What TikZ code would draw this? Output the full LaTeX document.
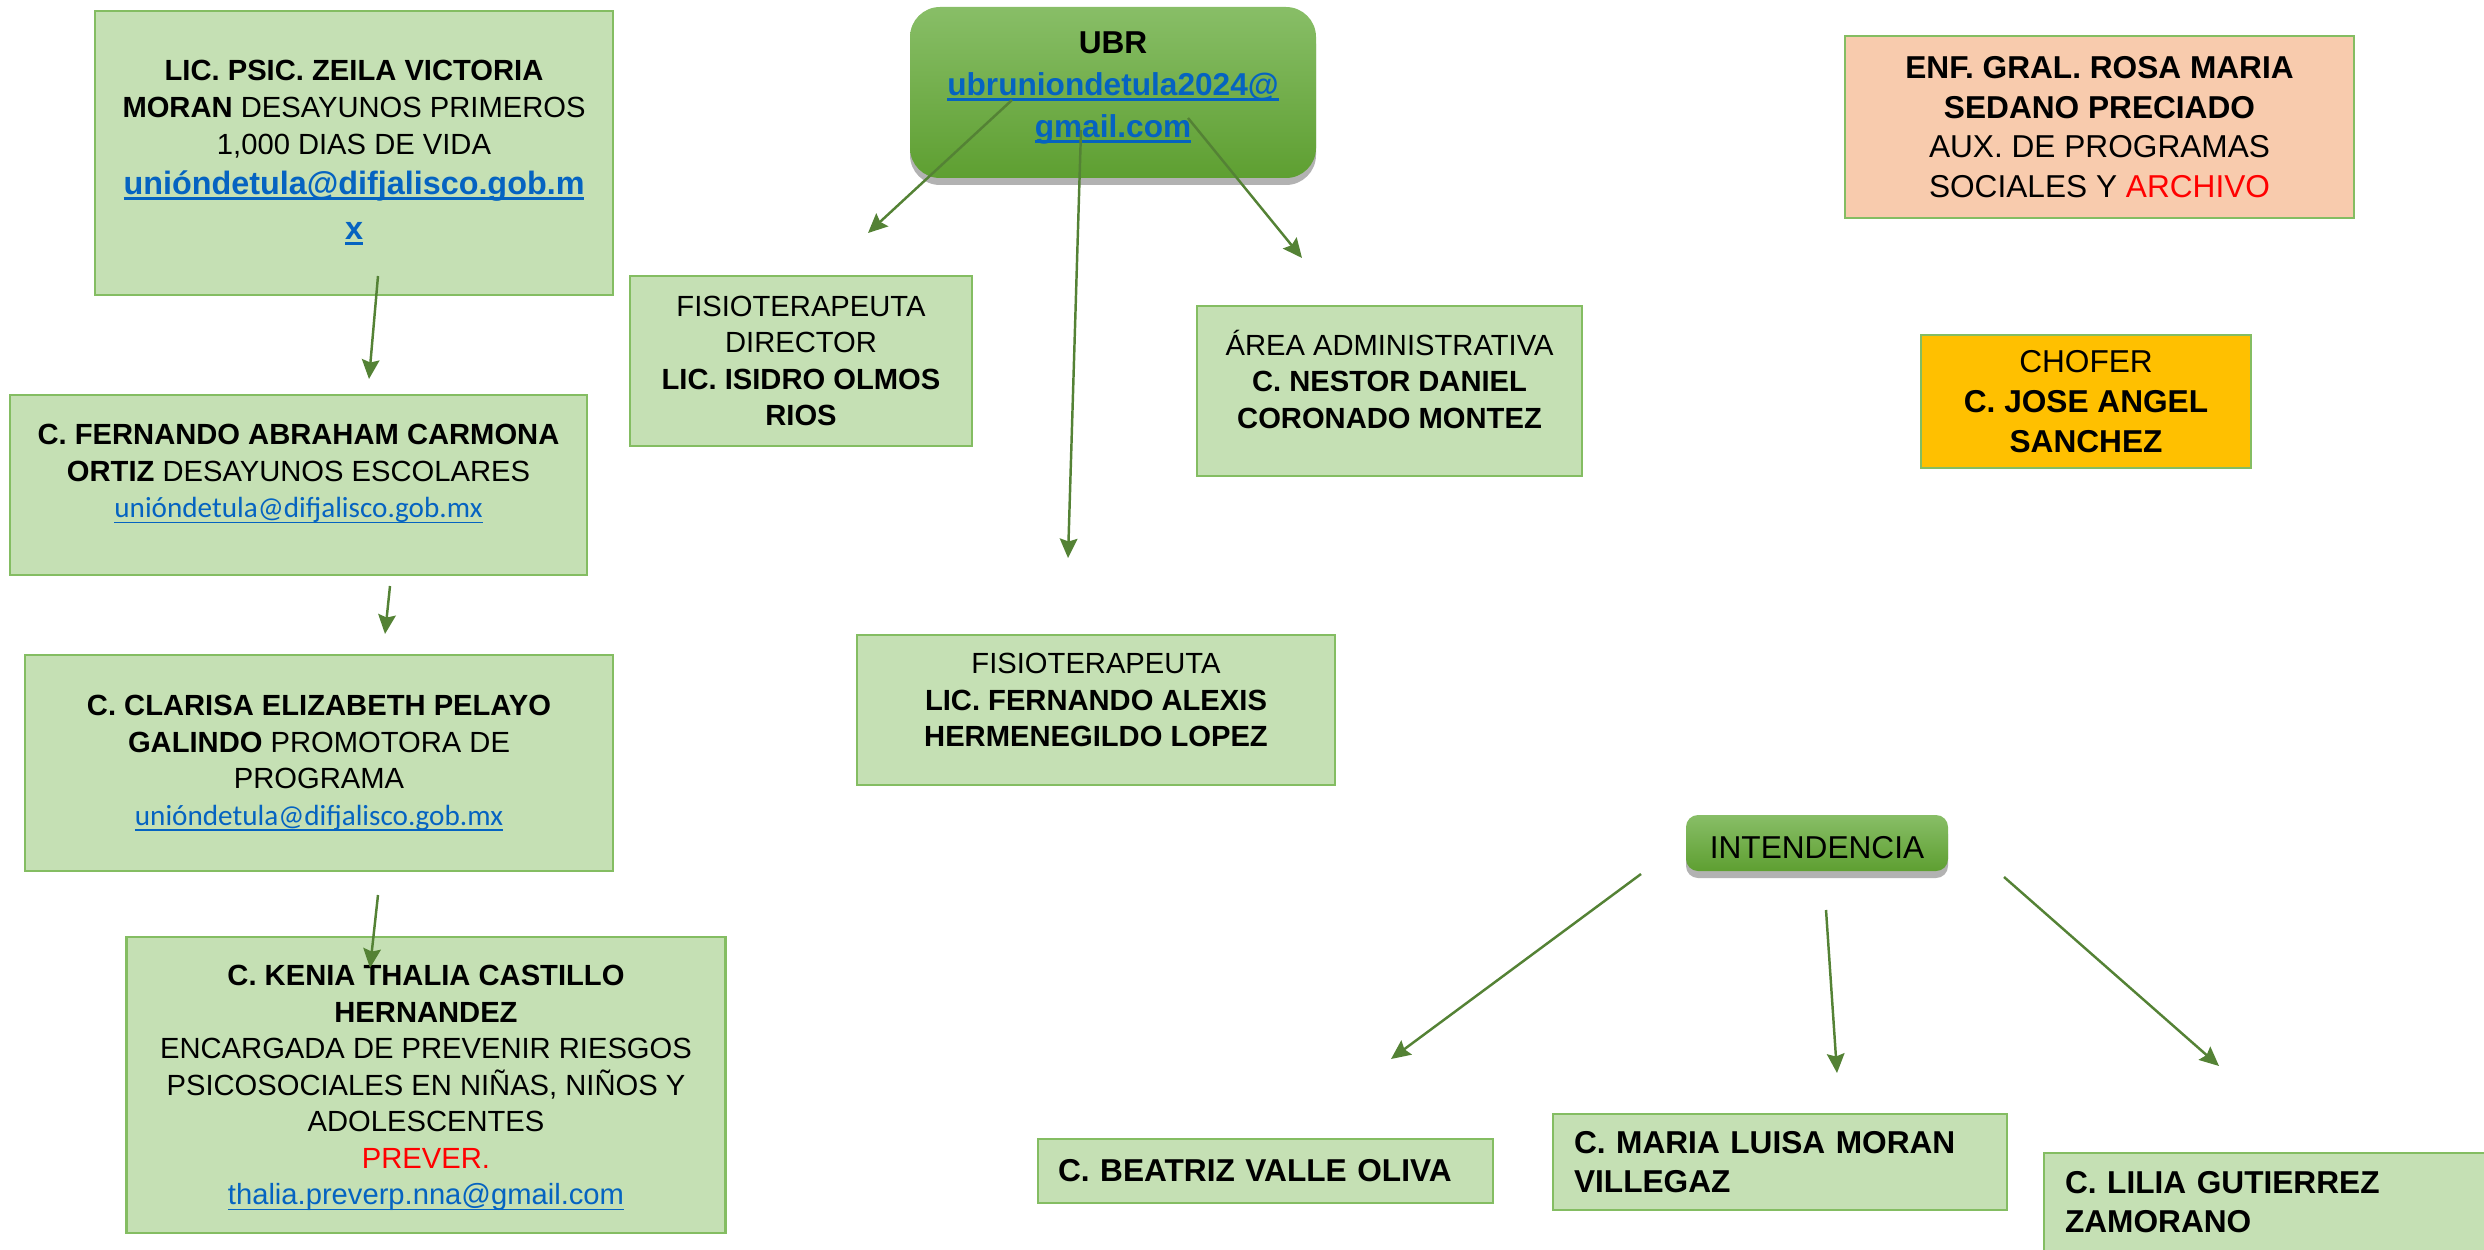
\documentclass[tikz,border=0pt]{standalone}
\usepackage{fontspec}
\setmainfont{Liberation Sans}
\newfontfamily\calfont{Carlito}
\usetikzlibrary{arrows.meta,shadows}

\definecolor{boxfill}{HTML}{C5E0B4}
\definecolor{boxedge}{HTML}{84BD62}
\definecolor{peach}{HTML}{F8CBAD}
\definecolor{amber}{HTML}{FFC000}
\definecolor{ubrtop}{HTML}{88BE67}
\definecolor{ubrbot}{HTML}{5E9F31}
\definecolor{linkblue}{HTML}{0563C1}
\definecolor{arrowgreen}{HTML}{548235}

\newsavebox{\undlbox}
\newcommand{\undl}[2][0.5pt]{\sbox{\undlbox}{#2}\rlap{\rule[-1.6pt]{\wd\undlbox}{#1}}\usebox{\undlbox}}
\newcommand{\mail}[1]{{\color{linkblue}\undl{#1}}}
\newcommand{\mailbf}[1]{{\color{linkblue}\bfseries\undl[0.9pt]{#1}}}
\newcommand{\mailcal}[1]{{\calfont\color{linkblue}\undl{#1}}}
\newcommand{\txtsm}{\fontsize{8.3}{10.4}\selectfont}
\newcommand{\txtlg}{\fontsize{9}{11.3}\selectfont}

\begin{document}
\begin{tikzpicture}[x=0.1mm, y=-0.1mm,
    box/.style={draw=boxedge, fill=boxfill, line width=0.6pt, inner sep=1pt, align=center},
    badge/.style={top color=ubrtop, bottom color=ubrbot, draw=none, align=center,
        drop shadow={shadow xshift=0pt, shadow yshift=-0.7mm, opacity=0.3, fill=black}},
    sm/.style={font=\txtsm},
    lg/.style={font=\txtlg},
    link/.style={arrowgreen, line width=0.7pt, -{Stealth[length=5.5pt, width=5pt, inset=0.8pt]}}]
    \useasboundingbox (0,0) rectangle (2484,1249);

    % Left column
    \node[box, sm, minimum width=5.18cm, minimum height=2.84cm] (zeila) at (354,153)
        {\textbf{LIC. PSIC. ZEILA VICTORIA}\\ \textbf{MORAN} DESAYUNOS PRIMEROS\\
         1,000 DIAS DE VIDA\\[1pt] {\fontsize{9.2}{10.4}\selectfont\mailbf{unióndetula@difjalisco.gob.m}}\\[2.6pt]
         {\fontsize{9.2}{10.4}\selectfont\mailbf{x}}};
    \node[box, sm, minimum width=5.77cm, minimum height=1.80cm, text depth=8pt] (carmona) at (298.5,485)
        {\textbf{C. FERNANDO ABRAHAM CARMONA}\\ \textbf{ORTIZ} DESAYUNOS ESCOLARES\\
         \mailcal{unióndetula@difjalisco.gob.mx}};
    \node[box, sm, minimum width=5.885cm, minimum height=2.16cm] (clarisa) at (319,763)
        {\textbf{C. CLARISA ELIZABETH PELAYO}\\ \textbf{GALINDO} PROMOTORA DE\\ PROGRAMA\\
         \mailcal{unióndetula@difjalisco.gob.mx}};
    \node[box, sm, minimum width=5.99cm, minimum height=2.96cm, text depth=0pt] (kenia) at (426,1085)
        {\textbf{C. KENIA THALIA CASTILLO}\\ \textbf{HERNANDEZ}\\ ENCARGADA DE PREVENIR RIESGOS\\
         PSICOSOCIALES EN NIÑAS, NIÑOS Y\\ ADOLESCENTES\\ {\color{red}PREVER.}\\
         \mail{thalia.preverp.nna@gmail.com}};

    % Center
    \node[badge, lg, rounded corners=3mm, minimum width=4.06cm, minimum height=1.71cm, text depth=4.6pt] (ubr) at (1113,92.5)
        {\textbf{UBR}\\[0.6pt] \mailbf{ubruniondetula2024@}\\[0.6pt] \mailbf{gmail.com}};
    \node[box, sm, minimum width=3.42cm, minimum height=1.70cm] (isidro) at (801,361)
        {FISIOTERAPEUTA\\ DIRECTOR\\ \textbf{LIC. ISIDRO OLMOS}\\ \textbf{RIOS}};
    \node[box, sm, minimum width=3.85cm, minimum height=1.70cm, text depth=6.8pt] (area) at (1389.5,391)
        {ÁREA ADMINISTRATIVA\\ \textbf{C. NESTOR DANIEL}\\ \textbf{CORONADO MONTEZ}};
    \node[box, sm, minimum width=4.78cm, minimum height=1.50cm, text depth=5.7pt] (alexis) at (1096,710)
        {FISIOTERAPEUTA\\ \textbf{LIC. FERNANDO ALEXIS}\\ \textbf{HERMENEGILDO LOPEZ}};

    % Right column
    \node[box, lg, fill=peach, minimum width=5.09cm, minimum height=1.82cm] (rosa) at (2099.5,127)
        {\textbf{ENF. GRAL. ROSA MARIA}\\ \textbf{SEDANO PRECIADO}\\ AUX. DE PROGRAMAS\\
         SOCIALES Y {\color{red}ARCHIVO}};
    \node[box, lg, fill=amber, minimum width=3.30cm, minimum height=1.33cm] (chofer) at (2086,401.5)
        {CHOFER\\ \textbf{C. JOSE ANGEL}\\ \textbf{SANCHEZ}};
    \node[badge, lg, rounded corners=1.2mm, minimum width=2.62cm, minimum height=0.56cm,
          text height=8.7pt, text depth=0pt] (intendencia) at (1817,843)
        {INTENDENCIA};

    % Bottom row
    \node[box, lg, align=left, inner xsep=2mm, text width=4.15cm, minimum height=0.64cm] (beatriz) at (1265.5,1171)
        {\textbf{C. BEATRIZ VALLE OLIVA}};
    \node[box, lg, align=left, inner xsep=2.1mm, text width=4.12cm, minimum height=0.96cm] (maria) at (1780,1162)
        {\textbf{C. MARIA LUISA MORAN}\\ \textbf{VILLEGAZ}};
    \node[box, lg, align=left, inner xsep=2.1mm, text width=4.44cm, minimum height=0.98cm] (lilia) at (2287,1202)
        {\textbf{C. LILIA GUTIERREZ}\\ \textbf{ZAMORANO}};

    % Arrow ends
    \coordinate (zeilaout) at (378,276);
    \coordinate (carmonain) at (369,379);
    \coordinate (carmonaout) at (390,586);
    \coordinate (clarisain) at (385,634);
    \coordinate (clarisaout) at (378,895);
    \coordinate (keniain) at (370,968);
    \coordinate (ubrleft) at (1012,100);
    \coordinate (isidroin) at (868,233);
    \coordinate (ubrmid) at (1081,130);
    \coordinate (alexisin) at (1068,558);
    \coordinate (ubrright) at (1188,118);
    \coordinate (areain) at (1302,258);
    \coordinate (intleft) at (1641,874);
    \coordinate (beatrizin) at (1391,1059);
    \coordinate (intmid) at (1826,910);
    \coordinate (mariain) at (1837,1073);
    \coordinate (intright) at (2004,877);
    \coordinate (liliain) at (2219,1066);

    % Draw arrows
    \draw[link] (zeilaout) -- (carmonain);
    \draw[link] (carmonaout) -- (clarisain);
    \draw[link] (clarisaout) -- (keniain);
    \draw[link] (ubrleft) -- (isidroin);
    \draw[link] (ubrmid) -- (alexisin);
    \draw[link] (ubrright) -- (areain);
    \draw[link] (intleft) -- (beatrizin);
    \draw[link] (intmid) -- (mariain);
    \draw[link] (intright) -- (liliain);
\end{tikzpicture}
\end{document}
